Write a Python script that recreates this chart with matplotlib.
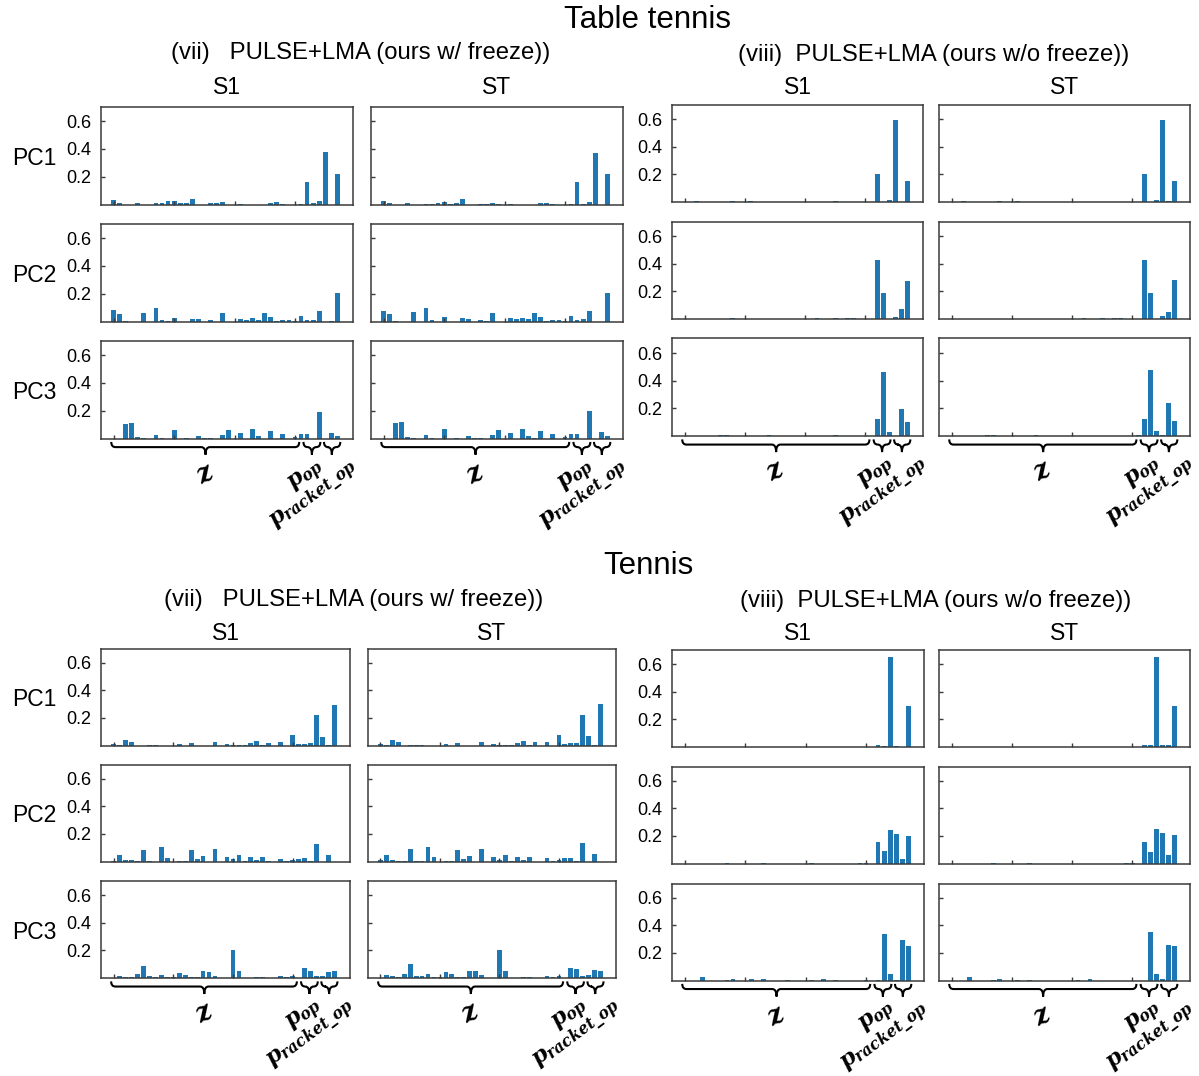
import matplotlib
matplotlib.use('Agg')
import matplotlib.pyplot as plt
from matplotlib.path import Path
from matplotlib.patches import PathPatch
from matplotlib.transforms import blended_transform_factory

plt.rcParams['font.family'] = ['Liberation Sans', 'DejaVu Sans']
plt.rcParams['mathtext.fontset'] = 'custom'
plt.rcParams['mathtext.it'] = 'DejaVu Serif:italic:bold'
plt.rcParams['mathtext.rm'] = 'DejaVu Serif:bold'
plt.rcParams['mathtext.bf'] = 'DejaVu Serif:bold'

# ---- data: 38 dims = 32 latent z + 3 p_op + 3 p_racket_op ----
dims = list(range(38))
pc_names = ['PC1', 'PC2', 'PC3']
col_names = ['S1', 'ST']
yticks = [0.2, 0.4, 0.6]
ytick_labels = ['0.2', '0.4', '0.6']

# Table tennis, (vii) w/ freeze
tt_w_s1_pc1 = [0.03, 0.01, 0, 0, 0.01, 0, 0, 0.008, 0.008, 0.022,
               0.022, 0.008, 0.01, 0.04, 0, 0, 0.012, 0.012, 0.017, 0,
               0, 0.007, 0, 0, 0, 0, 0.01, 0.017, 0.007, 0,
               0, 0.007, 0.16, 0.008, 0.022, 0.38, 0, 0.22]
tt_w_s1_pc2 = [0.08, 0.053, 0.005, 0, 0, 0.06, 0, 0.10, 0.01, 0.005,
               0.024, 0, 0, 0.02, 0.015, 0, 0.01, 0, 0.06, 0,
               0, 0.017, 0.012, 0.024, 0.012, 0.06, 0.03, 0.005, 0.01, 0.01,
               0.005, 0.04, 0.01, 0.012, 0.077, 0, 0.005, 0.205]
tt_w_s1_pc3 = [0, 0, 0.105, 0.115, 0.01, 0.005, 0, 0.024, 0.005, 0,
               0.058, 0, 0.005, 0, 0.015, 0.007, 0.007, 0, 0.024, 0.058,
               0, 0.038, 0, 0.065, 0.015, 0, 0.053, 0, 0.029, 0,
               0.01, 0.029, 0.034, 0, 0.19, 0, 0.038, 0.02]
tt_w_st_pc1 = [0.025, 0.008, 0, 0, 0.008, 0, 0, 0.004, 0.004, 0.012,
               0.02, 0.004, 0.008, 0.04, 0, 0, 0.004, 0.004, 0.012, 0.004,
               0, 0.004, 0, 0, 0, 0, 0.008, 0.012, 0.004, 0,
               0, 0.004, 0.16, 0.004, 0.017, 0.37, 0, 0.22]
tt_w_st_pc2 = [0.077, 0.055, 0.007, 0, 0, 0.065, 0, 0.099, 0.01, 0,
               0.029, 0, 0, 0.022, 0.017, 0, 0.01, 0.007, 0.063, 0,
               0, 0.022, 0.017, 0.027, 0.017, 0.058, 0.034, 0.007, 0.01, 0.01,
               0.007, 0.036, 0.012, 0.017, 0.077, 0, 0, 0.207]
tt_w_st_pc3 = [0, 0, 0.108, 0.118, 0.012, 0.005, 0, 0.027, 0.005, 0,
               0.067, 0, 0.005, 0, 0.015, 0.007, 0.007, 0, 0.024, 0.063,
               0, 0.041, 0, 0.067, 0.015, 0.005, 0.055, 0, 0.029, 0,
               0.012, 0.029, 0.034, 0, 0.2, 0, 0.046, 0.02]

# Table tennis, (viii) w/o freeze
tt_wo_s1_pc1 = [0, 0, 0.005, 0, 0, 0, 0, 0, 0.005, 0,
                0, 0.005, 0, 0, 0, 0, 0, 0, 0, 0,
                0, 0, 0, 0, 0, 0.005, 0, 0, 0, 0,
                0, 0, 0.2, 0, 0.015, 0.59, 0, 0.155]
tt_wo_s1_pc2 = [0, 0, 0, 0, 0, 0, 0, 0, 0.005, 0,
                0, 0, 0, 0, 0, 0, 0, 0, 0, 0,
                0, 0, 0.005, 0, 0, 0.005, 0, 0.005, 0.005, 0,
                0, 0, 0.426, 0.185, 0, 0.017, 0.072, 0.275]
tt_wo_s1_pc3 = [0, 0, 0, 0, 0, 0, 0.007, 0.007, 0, 0,
                0, 0, 0, 0, 0.005, 0, 0, 0, 0, 0,
                0, 0, 0, 0, 0, 0.005, 0, 0, 0, 0,
                0, 0, 0.125, 0.46, 0.03, 0, 0.197, 0.1]
tt_wo_st_pc1 = [0, 0, 0.005, 0, 0, 0, 0, 0, 0.005, 0,
                0, 0.005, 0, 0, 0, 0, 0, 0, 0, 0,
                0, 0, 0, 0, 0, 0, 0, 0, 0, 0,
                0, 0, 0.203, 0, 0.017, 0.59, 0.005, 0.155]
tt_wo_st_pc2 = [0, 0, 0, 0, 0, 0, 0, 0, 0, 0,
                0, 0, 0, 0, 0, 0, 0, 0, 0, 0,
                0, 0, 0.005, 0, 0, 0.005, 0, 0.005, 0.005, 0,
                0, 0, 0.43, 0.188, 0, 0.022, 0.053, 0.285]
tt_wo_st_pc3 = [0, 0, 0, 0, 0, 0, 0.005, 0.005, 0, 0,
                0, 0, 0, 0, 0.005, 0, 0, 0, 0, 0,
                0, 0, 0, 0, 0, 0, 0, 0, 0, 0,
                0, 0.005, 0.125, 0.48, 0.036, 0.005, 0.235, 0.108]

# Tennis, (vii) w/ freeze
tn_w_s1_pc1 = [0.01, 0.007, 0.04, 0.024, 0, 0, 0.007, 0.007, 0, 0,
               0, 0.01, 0, 0.02, 0, 0, 0, 0.029, 0, 0.01,
               0.007, 0.007, 0.007, 0.02, 0.036, 0.007, 0.02, 0, 0.024, 0,
               0.077, 0.01, 0.014, 0.02, 0.22, 0.06, 0.007, 0.297]
tn_w_s1_pc2 = [0.005, 0.046, 0.012, 0.012, 0.007, 0.086, 0.007, 0, 0.103, 0.029,
               0, 0.007, 0.007, 0.084, 0.017, 0.041, 0, 0.091, 0, 0.034,
               0.017, 0.05, 0.007, 0.036, 0.014, 0.034, 0.007, 0, 0.019, 0.007,
               0.012, 0.019, 0.024, 0.007, 0.127, 0, 0.048, 0]
tn_w_s1_pc3 = [0, 0.012, 0.007, 0.005, 0.026, 0.089, 0.012, 0.007, 0.022, 0.005,
               0.005, 0.036, 0.022, 0.005, 0.005, 0.048, 0.043, 0.017, 0, 0,
               0.205, 0.048, 0, 0, 0.005, 0.005, 0, 0, 0.012, 0.005,
               0.014, 0, 0.07, 0.053, 0.014, 0.014, 0.043, 0.053]
tn_w_st_pc1 = [0.01, 0.005, 0.04, 0.024, 0, 0.005, 0.005, 0.005, 0, 0,
               0, 0.01, 0, 0.02, 0, 0, 0, 0.029, 0, 0.01,
               0.005, 0.005, 0.005, 0.02, 0.034, 0.005, 0.024, 0, 0.024, 0,
               0.077, 0.01, 0.02, 0.02, 0.22, 0.067, 0.005, 0.3]
tn_w_st_pc2 = [0.01, 0.048, 0.012, 0.007, 0.007, 0.093, 0.007, 0.007, 0.103, 0.036,
               0, 0.007, 0.007, 0.084, 0.017, 0.041, 0, 0.093, 0, 0.036,
               0.014, 0.05, 0.007, 0.036, 0.012, 0.036, 0, 0, 0.022, 0.007,
               0.01, 0.026, 0.026, 0.007, 0.134, 0, 0.053, 0]
tn_w_st_pc3 = [0, 0.022, 0.012, 0.005, 0.031, 0.1, 0.017, 0.012, 0.026, 0.007,
               0.007, 0.041, 0.026, 0.007, 0.007, 0.053, 0.048, 0.022, 0, 0,
               0.207, 0.053, 0, 0, 0.005, 0.005, 0, 0, 0.017, 0.007,
               0.012, 0, 0.072, 0.062, 0.017, 0.022, 0.058, 0.053]

# Tennis, (viii) w/o freeze
tn_wo_s1_pc1 = [0, 0, 0, 0, 0, 0, 0, 0, 0, 0,
                0, 0, 0, 0, 0, 0, 0, 0, 0, 0,
                0, 0, 0, 0, 0, 0, 0, 0, 0, 0,
                0, 0, 0.015, 0.01, 0.655, 0.01, 0, 0.3]
tn_wo_s1_pc2 = [0, 0, 0, 0, 0, 0, 0, 0.005, 0, 0,
                0, 0, 0, 0.005, 0, 0, 0, 0, 0, 0,
                0, 0.005, 0, 0, 0, 0, 0, 0, 0, 0.005,
                0.005, 0, 0.156, 0.089, 0.245, 0.218, 0.036, 0.2]
tn_wo_s1_pc3 = [0, 0, 0, 0.026, 0, 0, 0, 0.007, 0.012, 0,
                0, 0.012, 0, 0.012, 0, 0, 0, 0.007, 0, 0,
                0, 0.007, 0, 0.012, 0, 0.007, 0, 0, 0, 0,
                0.007, 0, 0.007, 0.34, 0.046, 0.007, 0.295, 0.25]
tn_wo_st_pc1 = [0, 0, 0, 0, 0, 0, 0, 0, 0, 0,
                0, 0, 0, 0, 0, 0, 0, 0, 0, 0,
                0, 0, 0, 0, 0, 0, 0, 0, 0, 0,
                0, 0, 0.017, 0.017, 0.655, 0.012, 0.012, 0.3]
tn_wo_st_pc2 = [0, 0, 0, 0, 0, 0, 0, 0.005, 0, 0,
                0, 0, 0, 0.005, 0, 0, 0, 0, 0, 0,
                0, 0, 0, 0, 0, 0, 0, 0, 0, 0.005,
                0.005, 0, 0.156, 0.084, 0.254, 0.223, 0.062, 0.21]
tn_wo_st_pc3 = [0, 0, 0, 0.029, 0, 0, 0, 0.007, 0.012, 0,
                0, 0.007, 0, 0.007, 0, 0, 0, 0, 0, 0,
                0, 0.005, 0, 0.012, 0, 0, 0, 0, 0, 0,
                0, 0, 0, 0.35, 0.048, 0.012, 0.255, 0.248]

W, H = 1199, 1076
BAR_COLOR = '#1f77b4'
SPINE_COLOR = '#3a3a3a'


def add_px_axes(fig, x0, x1, top, h):
    """Axes from pixel box (origin top-left)."""
    return fig.add_axes([x0 / W, 1 - (top + h) / H, (x1 - x0) / W, h / H])


def draw_brace(ax, x0, x1, xm, r=0.7, y_end=-0.035, y_base=-0.088, y_tip=-0.165):
    trans = blended_transform_factory(ax.transData, ax.transAxes)
    verts = [(x0, y_end), (x0, y_base), (x0 + r, y_base),
             (xm - r, y_base),
             (xm, y_base), (xm, y_tip),
             (xm, y_base), (xm + r, y_base),
             (x1 - r, y_base),
             (x1, y_base), (x1, y_end)]
    codes = [Path.MOVETO, Path.CURVE3, Path.CURVE3,
             Path.LINETO,
             Path.CURVE3, Path.CURVE3,
             Path.CURVE3, Path.CURVE3,
             Path.LINETO,
             Path.CURVE3, Path.CURVE3]
    patch = PathPatch(Path(verts, codes), transform=trans, facecolor='none',
                      edgecolor='black', lw=1.5, clip_on=False)
    ax.add_patch(patch)


def draw_xlabels(ax):
    draw_brace(ax, -0.4, 30.7, 15.2)
    draw_brace(ax, 31.4, 34.2, 32.8)
    draw_brace(ax, 34.8, 37.5, 36.1)
    trans = blended_transform_factory(ax.transData, ax.transAxes)
    ax.text(15.2, -0.36, r'$z$', transform=trans, fontsize=19,
            rotation=30, ha='center', va='center', clip_on=False)
    ax.text(33.4, -0.17, r'$p_{op}$', transform=trans, fontsize=16,
            rotation=37, rotation_mode='anchor', ha='right', va='top')
    ax.text(38.7, -0.17, r'$p_{racket\_op}$', transform=trans, fontsize=16,
            rotation=37, rotation_mode='anchor', ha='right', va='top')


def draw_panel(ax, values, show_labels):
    ax.bar(dims, values, width=0.8, color=BAR_COLOR, linewidth=0)
    ax.set_xlim(-2.1, 39.6)
    ax.set_ylim(0, 0.705)
    ax.set_xticks([0, 10, 20, 30])
    ax.set_yticks(yticks)
    ax.set_yticklabels(ytick_labels if show_labels else [])
    ax.tick_params(axis='both', direction='in', length=3, width=1,
                   color=SPINE_COLOR, labelsize=13, pad=7)
    ax.tick_params(axis='x', labelbottom=False)
    for sp in ax.spines.values():
        sp.set_color(SPINE_COLOR)
        sp.set_linewidth(1.1)


sections = [
    {
        'title': 'Table tennis', 'title_y': 20, 'head_y': 88,
        'groups': [
            {'title': '(vii)   PULSE+LMA (ours w/ freeze))', 'tx': 361, 'ty': 53,
             'cols': [(101, 353), (371, 623)], 'tops': [106.5, 223.5, 340.5], 'h': 98,
             'data': [[tt_w_s1_pc1, tt_w_s1_pc2, tt_w_s1_pc3],
                      [tt_w_st_pc1, tt_w_st_pc2, tt_w_st_pc3]]},
            {'title': '(viii)  PULSE+LMA (ours w/o freeze))', 'tx': 934, 'ty': 55,
             'cols': [(672, 923), (939, 1190)], 'tops': [104.5, 221.5, 338.5], 'h': 97.5,
             'data': [[tt_wo_s1_pc1, tt_wo_s1_pc2, tt_wo_s1_pc3],
                      [tt_wo_st_pc1, tt_wo_st_pc2, tt_wo_st_pc3]]},
        ],
    },
    {
        'title': 'Tennis', 'title_y': 566, 'head_y': 634,
        'groups': [
            {'title': '(vii)   PULSE+LMA (ours w/ freeze))', 'tx': 354, 'ty': 600,
             'cols': [(101, 350), (368, 616)], 'tops': [648.5, 764.5, 881], 'h': 97,
             'data': [[tn_w_s1_pc1, tn_w_s1_pc2, tn_w_s1_pc3],
                      [tn_w_st_pc1, tn_w_st_pc2, tn_w_st_pc3]]},
            {'title': '(viii)  PULSE+LMA (ours w/o freeze))', 'tx': 936, 'ty': 601,
             'cols': [(672, 924), (939, 1190)], 'tops': [650, 766.5, 883.5], 'h': 97,
             'data': [[tn_wo_s1_pc1, tn_wo_s1_pc2, tn_wo_s1_pc3],
                      [tn_wo_st_pc1, tn_wo_st_pc2, tn_wo_st_pc3]]},
        ],
    },
]

fig = plt.figure(figsize=(W / 100, H / 100), dpi=100)

for sec in sections:
    fig.text(648 / W, 1 - sec['title_y'] / H, sec['title'], fontsize=22.5,
             ha='center', va='center')
    for g_idx, grp in enumerate(sec['groups']):
        fig.text(grp['tx'] / W, 1 - grp['ty'] / H, grp['title'], fontsize=17.2,
                 ha='center', va='center')
        for c_idx, (x0, x1) in enumerate(grp['cols']):
            fig.text((x0 + x1) / 2 / W, 1 - sec['head_y'] / H, col_names[c_idx],
                     fontsize=16.5, ha='center', va='center')
            for r_idx, top in enumerate(grp['tops']):
                ax = add_px_axes(fig, x0, x1, top, grp['h'])
                draw_panel(ax, grp['data'][c_idx][r_idx], show_labels=(c_idx == 0))
                if g_idx == 0 and c_idx == 0:
                    fig.text(34 / W, 1 - (top + grp['h'] / 2 + 3) / H, pc_names[r_idx],
                             fontsize=16.5, ha='center', va='center')
                if r_idx == 2:
                    draw_xlabels(ax)

fig.savefig('out.png', dpi=100)
